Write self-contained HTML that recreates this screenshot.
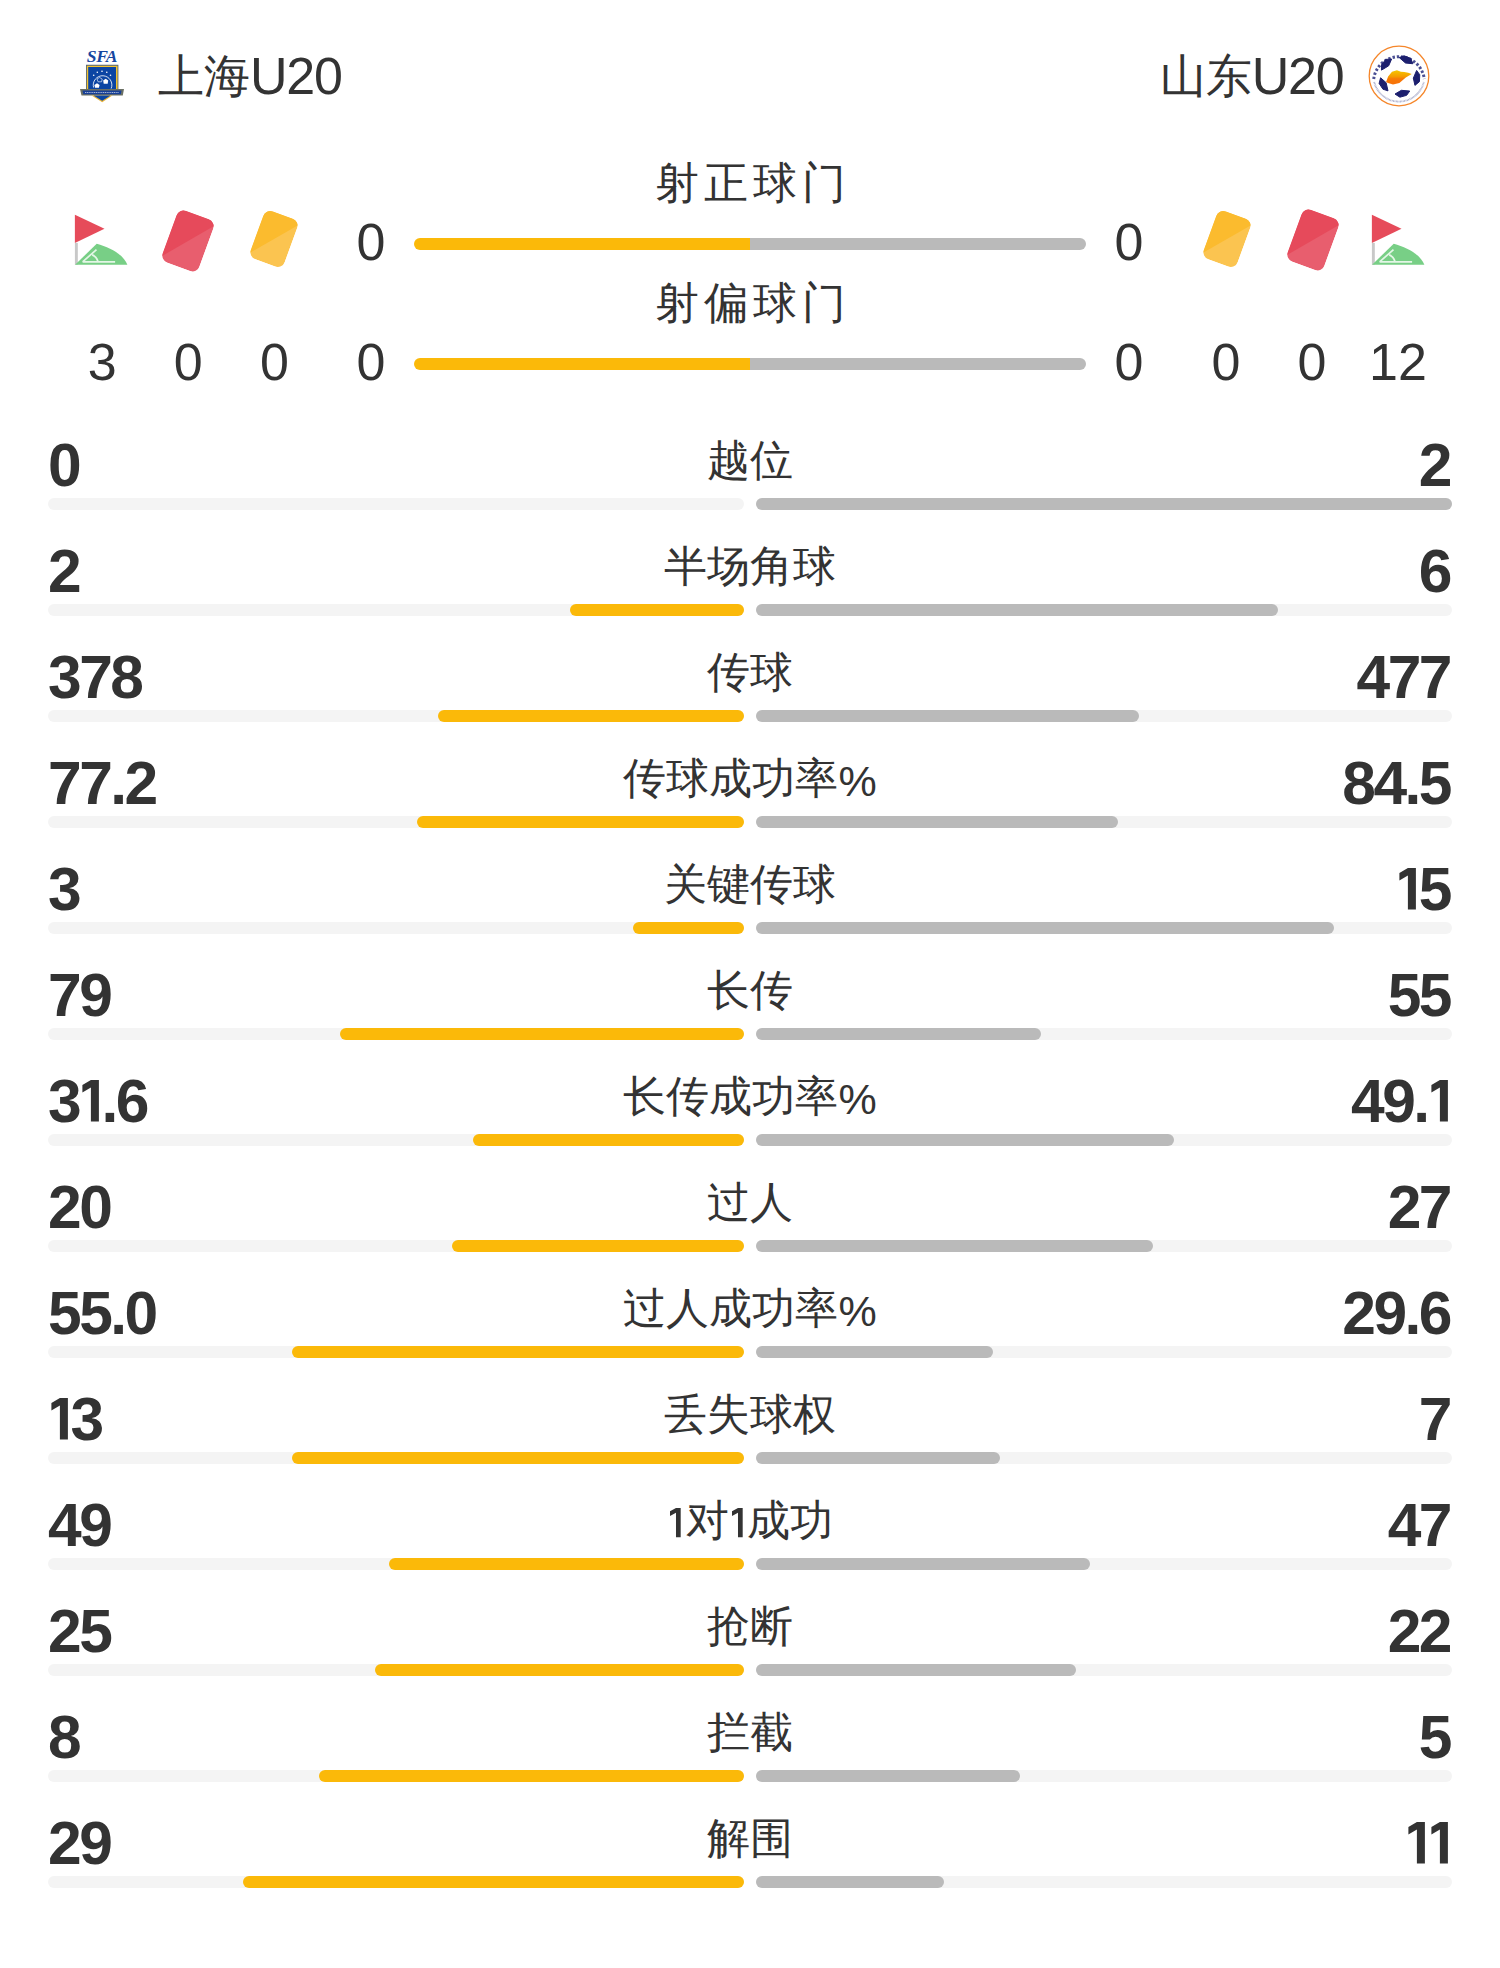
<!DOCTYPE html>
<html><head><meta charset="utf-8">
<style>
html,body{margin:0;padding:0;background:#fff;}
body{width:1500px;height:1968px;position:relative;overflow:hidden;font-family:"Liberation Sans",sans-serif;color:#333;}
.a{position:absolute;white-space:nowrap;}
.team{font-weight:500;position:absolute;top:38.5px;font-size:46px;line-height:70px;height:70px;white-space:nowrap;color:#333;}
.team span{font-size:52px;letter-spacing:-1.2px;position:relative;top:2px;}
.ttl{font-weight:500;position:absolute;left:0;width:1500px;text-align:center;font-size:44px;line-height:60px;letter-spacing:5px;text-indent:5px;color:#333;white-space:nowrap;}
.lbl{font-weight:500;position:absolute;left:0;width:1500px;text-align:center;font-size:43px;line-height:60px;color:#333;white-space:nowrap;}
.sn{position:absolute;width:100px;text-align:center;font-size:52px;line-height:60px;color:#333;white-space:nowrap;}
.b{position:absolute;height:12px;border-radius:6px;}
.t{background:#f4f4f4;}
.y{background:#fbb909;}
.g{background:#bababa;}
.bl{position:absolute;left:48px;font-size:60.5px;font-weight:bold;line-height:80px;letter-spacing:-2.5px;color:#333;white-space:nowrap;}
.br{position:absolute;right:50px;font-size:60.5px;font-weight:bold;line-height:80px;letter-spacing:-2.5px;color:#333;text-align:right;white-space:nowrap;}
svg{position:absolute;overflow:visible;}
.one{position:static;vertical-align:baseline;}
.pct{position:relative;top:2.5px;}
</style></head><body>
<svg style="left:72px;top:42px" width="60" height="66" viewBox="0 0 60 66">
<text x="30" y="20.2" text-anchor="middle" font-family="Liberation Serif" font-weight="bold" font-style="italic" font-size="17.6" fill="#1646a0" letter-spacing="-0.4">SFA</text>
<path d="M14 22.8 H46.4 V47 H14 Z" fill="#5a6a78"/>
<path d="M14.9 23.8 H45.5 V47 H14.9 Z" fill="#f2c230"/>
<path d="M16.2 25 H44 V47 H16.2 Z" fill="#0b45a3"/>
<g fill="#fff">
<circle cx="30" cy="29.3" r="0.8"/><circle cx="25.3" cy="30.3" r="0.8"/><circle cx="34.8" cy="30.3" r="0.8"/><circle cx="21.7" cy="33.3" r="0.8"/><circle cx="38.5" cy="33.3" r="0.8"/>
</g>
<path d="M21.6 45.5 A9.3 9.3 0 1 1 39.2 46.5" stroke="#fff" stroke-width="0.9" fill="none" opacity="0.9"/>
<path d="M22.4 43 l2.6 -1.8 l2.6 1.8 l-0.7 2.8 h-3.8 z" fill="#fff"/><path d="M25 37 l2.6 -1.5 l2.6 1.5 l-0.6 2.8 h-3.6 z" fill="none" stroke="#fff" stroke-width="0.6"/>
<path d="M31.2 38.5 l2.5 -1.8 l2.5 1.8 l-0.5 3.3 h-4 z" fill="#fff"/>
<path d="M8 47 L52 47 L50.8 53.6 L9.5 53.6 Z" fill="#6b7064"/>
<path d="M10.5 48.6 L49.5 48.6 L48.8 52.2 L11.3 52.2 Z" fill="#173f97"/>
<path d="M13 50.4 H47" stroke="#fff" stroke-width="0.8" stroke-dasharray="1.2 0.6" opacity="0.85"/>
<path d="M19.6 53.6 L30.2 60.3 L40.4 53.6 Z" fill="#e8b43a"/>
<path d="M21.5 53.6 L30.2 58.8 L38.6 53.6 Z" fill="#0b45a3"/>
</svg>
<svg style="left:1366.6px;top:43.900000000000006px" width="64" height="64" viewBox="-32 -32 64 64">
<defs><linearGradient id="sdg" x1="0" y1="0" x2="0" y2="1"><stop offset="0" stop-color="#f6c800"/><stop offset="0.45" stop-color="#f59c00"/><stop offset="0.6" stop-color="#f77a08"/><stop offset="1" stop-color="#f77208"/></linearGradient></defs>
<circle r="29.8" fill="#fff" stroke="#f5862a" stroke-width="1.3"/>
<path d="M-25.3 3 A25.5 25.5 0 0 1 25.3 3" fill="none" stroke="#2b3080" stroke-width="3" stroke-dasharray="2.4 1.9" opacity="0.85"/>
<path d="M-24.8 6 A25.5 25.5 0 0 0 24.8 6" fill="none" stroke="#4a4f90" stroke-width="1.8" stroke-dasharray="0.8 0.6" opacity="0.5"/>
<path d="M17.64 -5.56 L20.76 -1.27 L20.43 5.67 L15.94 9.39 L14.34 2.14 Z" fill="#1c1f6e" stroke="#1c1f6e" stroke-width="1" stroke-linejoin="round"/><path d="M10.74 15.06 L7.62 19.35 L0.92 21.18 L-4.00 18.06 L2.39 14.30 Z" fill="#1c1f6e" stroke="#1c1f6e" stroke-width="1" stroke-linejoin="round"/><path d="M-11.00 14.87 L-16.05 13.23 L-19.86 7.42 L-18.41 1.77 L-12.86 6.70 Z" fill="#1c1f6e" stroke="#1c1f6e" stroke-width="1" stroke-linejoin="round"/><path d="M-17.54 -5.87 L-17.54 -11.18 L-13.20 -16.59 L-7.38 -16.97 L-10.34 -10.16 Z" fill="#1c1f6e" stroke="#1c1f6e" stroke-width="1" stroke-linejoin="round"/><path d="M0.16 -18.50 L5.21 -20.14 L11.70 -17.68 L13.86 -12.26 L6.47 -12.98 Z" fill="#1c1f6e" stroke="#1c1f6e" stroke-width="1" stroke-linejoin="round"/>
<path d="M-12.9 6 L-10.9 0.6 L-7 -4.3 L-2.1 -5.8 L1.9 -4.3 L5.3 -3.9 L9.2 -3.3 L12.7 -1.9 L6.8 1.6 L0.4 7 L-6 8.5 L-10.9 7 Z" fill="url(#sdg)"/>
</svg>
<div class="team" style="left:158px;">上海<span>U20</span></div>
<div class="team" style="right:156.5px;">山东<span>U20</span></div>
<div class="ttl" style="top:153px;">射正球门</div>
<div class="ttl" style="top:273px;">射偏球门</div>
<div class="b y" style="left:414px;top:238px;width:336px;border-radius:6px 0 0 6px;"></div>
<div class="b g" style="left:750px;top:238px;width:336px;border-radius:0 6px 6px 0;"></div>
<div class="b y" style="left:414px;top:358px;width:336px;border-radius:6px 0 0 6px;"></div>
<div class="b g" style="left:750px;top:358px;width:336px;border-radius:0 6px 6px 0;"></div>
<svg style="left:65px;top:200px" width="80" height="80" viewBox="0 0 80 80">
<path d="M9.9 14.7 L39.5 28.8 L9.9 42.9 Z" fill="#e64b5a"/>
<rect x="9.9" y="42.9" width="2.9" height="21.9" fill="#c8c8c8"/>
<path d="M10.1 64.8 L31.7 43.7 C45 47.5 58 54 62.4 64.8 Z" fill="#78cf86"/>
<path d="M17.6 61.9 L31.5 49.6 M17.6 61.9 L50.1 61.9 M27.2 54.9 Q31.5 56.5 33.1 61.9" stroke="#e3f6e6" stroke-width="1.7" fill="none"/>
</svg>
<svg style="left:147.9px;top:200.5px" width="80" height="80" viewBox="-40 -40 80 80">
<defs><clipPath id="cp187"><rect x="-19.5" y="-27.5" width="39" height="55" rx="7.5"/></clipPath></defs>
<g transform="rotate(20)"><g clip-path="url(#cp187)">
<rect x="-19.5" y="-27.5" width="39" height="55" fill="#e85e6e"/>
<path d="M-20.5 -28.5 L20.5 -28.5 L20.5 -24.5 L-20.5 24.5 Z" fill="#e64a5b"/>
</g></g></svg>
<svg style="left:234.3px;top:198.9px" width="80" height="80" viewBox="-40 -40 80 80">
<defs><clipPath id="cp274"><rect x="-18.0" y="-25.5" width="36" height="51" rx="7.5"/></clipPath></defs>
<g transform="rotate(20)"><g clip-path="url(#cp274)">
<rect x="-18.0" y="-25.5" width="36" height="51" fill="#fbc450"/>
<path d="M-19.0 -26.5 L19.0 -26.5 L19.0 -22.5 L-19.0 22.5 Z" fill="#fbbb2e"/>
</g></g></svg>
<svg style="left:1186.8px;top:198.8px" width="80" height="80" viewBox="-40 -40 80 80">
<defs><clipPath id="cp1226"><rect x="-18.0" y="-25.5" width="36" height="51" rx="7.5"/></clipPath></defs>
<g transform="rotate(20)"><g clip-path="url(#cp1226)">
<rect x="-18.0" y="-25.5" width="36" height="51" fill="#fbc450"/>
<path d="M-19.0 -26.5 L19.0 -26.5 L19.0 -22.5 L-19.0 22.5 Z" fill="#fbbb2e"/>
</g></g></svg>
<svg style="left:1272.8px;top:200.4px" width="80" height="80" viewBox="-40 -40 80 80">
<defs><clipPath id="cp1312"><rect x="-19.5" y="-27.5" width="39" height="55" rx="7.5"/></clipPath></defs>
<g transform="rotate(20)"><g clip-path="url(#cp1312)">
<rect x="-19.5" y="-27.5" width="39" height="55" fill="#e85e6e"/>
<path d="M-20.5 -28.5 L20.5 -28.5 L20.5 -24.5 L-20.5 24.5 Z" fill="#e64a5b"/>
</g></g></svg>
<svg style="left:1361.7px;top:200px" width="80" height="80" viewBox="0 0 80 80">
<path d="M9.9 14.7 L39.5 28.8 L9.9 42.9 Z" fill="#e64b5a"/>
<rect x="9.9" y="42.9" width="2.9" height="21.9" fill="#c8c8c8"/>
<path d="M10.1 64.8 L31.7 43.7 C45 47.5 58 54 62.4 64.8 Z" fill="#78cf86"/>
<path d="M17.6 61.9 L31.5 49.6 M17.6 61.9 L50.1 61.9 M27.2 54.9 Q31.5 56.5 33.1 61.9" stroke="#e3f6e6" stroke-width="1.7" fill="none"/>
</svg>
<div class="sn" style="left:321px;top:212px;">0</div>
<div class="sn" style="left:1079px;top:212px;">0</div>
<div class="sn" style="left:52.2px;top:332px;">3</div>
<div class="sn" style="left:138.3px;top:332px;">0</div>
<div class="sn" style="left:224.39999999999998px;top:332px;">0</div>
<div class="sn" style="left:321px;top:332px;">0</div>
<div class="sn" style="left:1079px;top:332px;">0</div>
<div class="sn" style="left:1176px;top:332px;">0</div>
<div class="sn" style="left:1262px;top:332px;">0</div>
<div class="sn" style="left:1348px;top:332px;">12</div>
<div class="bl" style="top:424.5px;">0</div>
<div class="br" style="top:424.5px;">2</div>
<div class="lbl" style="top:430px;">越位</div>
<div class="b t" style="left:48px;top:498px;width:696px;"></div>
<div class="b t" style="left:756px;top:498px;width:696px;"></div>
<div class="b g" style="left:756px;top:498px;width:696px;"></div>
<div class="bl" style="top:530.5px;">2</div>
<div class="br" style="top:530.5px;">6</div>
<div class="lbl" style="top:536px;">半场角球</div>
<div class="b t" style="left:48px;top:604px;width:696px;"></div>
<div class="b t" style="left:756px;top:604px;width:696px;"></div>
<div class="b y" style="left:570px;top:604px;width:174px;"></div>
<div class="b g" style="left:756px;top:604px;width:522px;"></div>
<div class="bl" style="top:636.5px;">378</div>
<div class="br" style="top:636.5px;">477</div>
<div class="lbl" style="top:642px;">传球</div>
<div class="b t" style="left:48px;top:710px;width:696px;"></div>
<div class="b t" style="left:756px;top:710px;width:696px;"></div>
<div class="b y" style="left:438px;top:710px;width:306px;"></div>
<div class="b g" style="left:756px;top:710px;width:383px;"></div>
<div class="bl" style="top:742.5px;">77.2</div>
<div class="br" style="top:742.5px;">84.5</div>
<div class="lbl" style="top:748px;">传球成功率<span class="pct">%</span></div>
<div class="b t" style="left:48px;top:816px;width:696px;"></div>
<div class="b t" style="left:756px;top:816px;width:696px;"></div>
<div class="b y" style="left:417px;top:816px;width:327px;"></div>
<div class="b g" style="left:756px;top:816px;width:362px;"></div>
<div class="bl" style="top:848.5px;">3</div>
<div class="br" style="top:848.5px;"><svg class="one" width="22.4" height="41.6" viewBox="0 0 22.4 41.6"><path d="M3.4 5.1 L11.9 0 H19.9 V41.6 H11.9 V7.5 L3.4 12.6 Z" fill="#333"/></svg>5</div>
<div class="lbl" style="top:854px;">关键传球</div>
<div class="b t" style="left:48px;top:922px;width:696px;"></div>
<div class="b t" style="left:756px;top:922px;width:696px;"></div>
<div class="b y" style="left:633px;top:922px;width:111px;"></div>
<div class="b g" style="left:756px;top:922px;width:578px;"></div>
<div class="bl" style="top:954.5px;">79</div>
<div class="br" style="top:954.5px;">55</div>
<div class="lbl" style="top:960px;">长传</div>
<div class="b t" style="left:48px;top:1028px;width:696px;"></div>
<div class="b t" style="left:756px;top:1028px;width:696px;"></div>
<div class="b y" style="left:340px;top:1028px;width:404px;"></div>
<div class="b g" style="left:756px;top:1028px;width:285px;"></div>
<div class="bl" style="top:1060.5px;">3<svg class="one" width="22.4" height="41.6" viewBox="0 0 22.4 41.6"><path d="M3.4 5.1 L11.9 0 H19.9 V41.6 H11.9 V7.5 L3.4 12.6 Z" fill="#333"/></svg>.6</div>
<div class="br" style="top:1060.5px;">49.<svg class="one" width="22.4" height="41.6" viewBox="0 0 22.4 41.6"><path d="M3.4 5.1 L11.9 0 H19.9 V41.6 H11.9 V7.5 L3.4 12.6 Z" fill="#333"/></svg></div>
<div class="lbl" style="top:1066px;">长传成功率<span class="pct">%</span></div>
<div class="b t" style="left:48px;top:1134px;width:696px;"></div>
<div class="b t" style="left:756px;top:1134px;width:696px;"></div>
<div class="b y" style="left:473px;top:1134px;width:271px;"></div>
<div class="b g" style="left:756px;top:1134px;width:418px;"></div>
<div class="bl" style="top:1166.5px;">20</div>
<div class="br" style="top:1166.5px;">27</div>
<div class="lbl" style="top:1172px;">过人</div>
<div class="b t" style="left:48px;top:1240px;width:696px;"></div>
<div class="b t" style="left:756px;top:1240px;width:696px;"></div>
<div class="b y" style="left:452px;top:1240px;width:292px;"></div>
<div class="b g" style="left:756px;top:1240px;width:397px;"></div>
<div class="bl" style="top:1272.5px;">55.0</div>
<div class="br" style="top:1272.5px;">29.6</div>
<div class="lbl" style="top:1278px;">过人成功率<span class="pct">%</span></div>
<div class="b t" style="left:48px;top:1346px;width:696px;"></div>
<div class="b t" style="left:756px;top:1346px;width:696px;"></div>
<div class="b y" style="left:292px;top:1346px;width:452px;"></div>
<div class="b g" style="left:756px;top:1346px;width:237px;"></div>
<div class="bl" style="top:1378.5px;"><svg class="one" width="22.4" height="41.6" viewBox="0 0 22.4 41.6"><path d="M3.4 5.1 L11.9 0 H19.9 V41.6 H11.9 V7.5 L3.4 12.6 Z" fill="#333"/></svg>3</div>
<div class="br" style="top:1378.5px;">7</div>
<div class="lbl" style="top:1384px;">丢失球权</div>
<div class="b t" style="left:48px;top:1452px;width:696px;"></div>
<div class="b t" style="left:756px;top:1452px;width:696px;"></div>
<div class="b y" style="left:292px;top:1452px;width:452px;"></div>
<div class="b g" style="left:756px;top:1452px;width:244px;"></div>
<div class="bl" style="top:1484.5px;">49</div>
<div class="br" style="top:1484.5px;">47</div>
<div class="lbl" style="top:1490px;"><svg class="one" style="vertical-align:-2.5px" width="18.2" height="29.3" viewBox="0 0 18.2 29.3"><path d="M3 3.3 L9 0 H13.7 V29.3 H9 V4.7 L3 8 Z" fill="#333"/></svg>对<svg class="one" style="vertical-align:-2.5px" width="18.2" height="29.3" viewBox="0 0 18.2 29.3"><path d="M3 3.3 L9 0 H13.7 V29.3 H9 V4.7 L3 8 Z" fill="#333"/></svg>成功</div>
<div class="b t" style="left:48px;top:1558px;width:696px;"></div>
<div class="b t" style="left:756px;top:1558px;width:696px;"></div>
<div class="b y" style="left:389px;top:1558px;width:355px;"></div>
<div class="b g" style="left:756px;top:1558px;width:334px;"></div>
<div class="bl" style="top:1590.5px;">25</div>
<div class="br" style="top:1590.5px;">22</div>
<div class="lbl" style="top:1596px;">抢断</div>
<div class="b t" style="left:48px;top:1664px;width:696px;"></div>
<div class="b t" style="left:756px;top:1664px;width:696px;"></div>
<div class="b y" style="left:375px;top:1664px;width:369px;"></div>
<div class="b g" style="left:756px;top:1664px;width:320px;"></div>
<div class="bl" style="top:1696.5px;">8</div>
<div class="br" style="top:1696.5px;">5</div>
<div class="lbl" style="top:1702px;">拦截</div>
<div class="b t" style="left:48px;top:1770px;width:696px;"></div>
<div class="b t" style="left:756px;top:1770px;width:696px;"></div>
<div class="b y" style="left:319px;top:1770px;width:425px;"></div>
<div class="b g" style="left:756px;top:1770px;width:264px;"></div>
<div class="bl" style="top:1802.5px;">29</div>
<div class="br" style="top:1802.5px;"><svg class="one" width="22.4" height="41.6" viewBox="0 0 22.4 41.6"><path d="M3.4 5.1 L11.9 0 H19.9 V41.6 H11.9 V7.5 L3.4 12.6 Z" fill="#333"/></svg><svg class="one" width="22.4" height="41.6" viewBox="0 0 22.4 41.6"><path d="M3.4 5.1 L11.9 0 H19.9 V41.6 H11.9 V7.5 L3.4 12.6 Z" fill="#333"/></svg></div>
<div class="lbl" style="top:1808px;">解围</div>
<div class="b t" style="left:48px;top:1876px;width:696px;"></div>
<div class="b t" style="left:756px;top:1876px;width:696px;"></div>
<div class="b y" style="left:243px;top:1876px;width:501px;"></div>
<div class="b g" style="left:756px;top:1876px;width:188px;"></div>
</body></html>
